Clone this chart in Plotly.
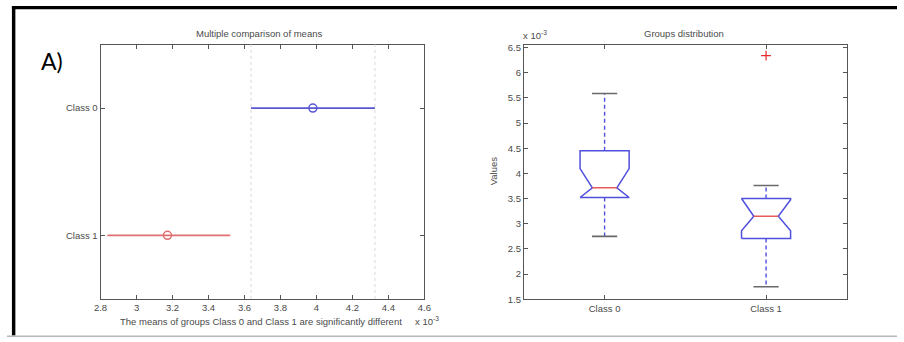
import plotly.graph_objects as go

W, H = 904, 342

# ---- Multiple comparison of means (values in units of 1e-3) ----
groups = ["Class 0", "Class 1"]
group_means = [3.98, 3.172]
ci_lower = [3.636, 2.838]
ci_upper = [4.325, 3.521]
group_colors = ["rgb(88,88,210)", "rgb(224,112,112)"]
mean_ticks = [2.8, 3.0, 3.2, 3.4, 3.6, 3.8, 4.0, 4.2, 4.4, 4.6]

# ---- Groups distribution: notched box statistics (units of 1e-3) ----
lower_whisker = [2.75, 1.75]
q1 = [3.522, 2.71]
notch_low = [3.522, 2.86]
median = [3.716, 3.149]
notch_high = [4.097, 3.48]
q3 = [4.45, 3.503]
upper_whisker = [5.59, 3.76]
outlier_group = [1]
outlier_value = [6.34]
value_ticks = [1.5, 2, 2.5, 3, 3.5, 4, 4.5, 5, 5.5, 6, 6.5]

BOX_BLUE = "rgb(80,80,222)"
MED_RED = "rgb(232,90,90)"
CAP_GRAY = "rgb(105,105,105)"
AX_COL = "#555555"
TXT_COL = "#4a4a4a"
FONT = "Liberation Sans, Arial, sans-serif"
FS = 9.5


def px_x(p):
    return p / W


def px_y(p):
    return 1 - p / H


fig = go.Figure()

# Left panel: comparison intervals with mean markers
for i, g in enumerate(groups):
    fig.add_trace(go.Scatter(
        x=[ci_lower[i], ci_upper[i]], y=[g, g], mode="lines",
        line=dict(color=group_colors[i], width=1.8),
        xaxis="x", yaxis="y", showlegend=False, hoverinfo="skip"))
    fig.add_trace(go.Scatter(
        x=[group_means[i]], y=[g], mode="markers",
        marker=dict(symbol="circle-open", size=8, color=group_colors[i],
                    line=dict(color=group_colors[i], width=1.5)),
        xaxis="x", yaxis="y", showlegend=False))

# Dotted reference lines at the bounds of the first group's interval
for xv in (ci_lower[0], ci_upper[0]):
    fig.add_shape(type="line", xref="x", yref="y domain",
                  x0=xv, x1=xv, y0=0, y1=1,
                  line=dict(color="#d8d8d8", width=1, dash="dot"))

# Right panel: notched box plots
HW = 0.152   # box half width
NW = 0.076   # notch half width at the median
CW = 0.078   # whisker cap half width
for i in range(len(groups)):
    p = i
    # whiskers
    fig.add_trace(go.Scatter(
        x=[p, p, None, p, p],
        y=[q3[i], upper_whisker[i], None, q1[i], lower_whisker[i]],
        mode="lines", line=dict(color=BOX_BLUE, width=1.4, dash="4px,3px"),
        xaxis="x2", yaxis="y2", showlegend=False, hoverinfo="skip"))
    # notched box outline
    bx = [p - HW, p - HW, p - NW, p - HW, p - HW,
          p + HW, p + HW, p + NW, p + HW, p + HW, p - HW]
    by = [q1[i], notch_low[i], median[i], notch_high[i], q3[i],
          q3[i], notch_high[i], median[i], notch_low[i], q1[i], q1[i]]
    fig.add_trace(go.Scatter(
        x=bx, y=by, mode="lines", line=dict(color=BOX_BLUE, width=1.5),
        xaxis="x2", yaxis="y2", showlegend=False, hoverinfo="skip"))
    # median
    fig.add_trace(go.Scatter(
        x=[p - NW, p + NW], y=[median[i], median[i]], mode="lines",
        line=dict(color=MED_RED, width=1.5),
        xaxis="x2", yaxis="y2", showlegend=False, hoverinfo="skip"))
    # whisker caps
    fig.add_trace(go.Scatter(
        x=[p - CW, p + CW, None, p - CW, p + CW],
        y=[upper_whisker[i], upper_whisker[i], None,
           lower_whisker[i], lower_whisker[i]],
        mode="lines", line=dict(color=CAP_GRAY, width=1.6),
        xaxis="x2", yaxis="y2", showlegend=False, hoverinfo="skip"))

# outliers
fig.add_trace(go.Scatter(
    x=outlier_group, y=outlier_value, mode="markers",
    marker=dict(symbol="cross-thin", size=7,
                line=dict(color="rgb(230,40,40)", width=1.2)),
    xaxis="x2", yaxis="y2", showlegend=False))

axis_common = dict(
    showline=True, linecolor=AX_COL, linewidth=1, mirror="ticks",
    ticks="inside", ticklen=4, tickcolor=AX_COL, tickwidth=1,
    showgrid=False, zeroline=False,
    tickfont=dict(family=FONT, size=FS, color=TXT_COL))

fig.update_layout(
    width=W, height=H,
    margin=dict(l=0, r=0, t=0, b=0),
    paper_bgcolor="white", plot_bgcolor="white",
    xaxis=dict(domain=[px_x(95), px_x(424)], anchor="y",
               range=[2.8, 4.6], tickvals=mean_ticks,
               ticktext=[f"{v:g}" for v in mean_ticks], **axis_common),
    yaxis=dict(domain=[px_y(303), px_y(42.5)], anchor="x",
               type="category", categoryorder="array",
               categoryarray=groups[::-1], range=[-0.5, 1.5],
               **axis_common),
    xaxis2=dict(domain=[px_x(525), px_x(853)], anchor="y2",
                range=[-0.5, 1.5], tickvals=list(range(len(groups))),
                ticktext=groups, **axis_common),
    yaxis2=dict(domain=[px_y(303.4), px_y(42.7)], anchor="x2",
                range=[1.5, 6.558], tickvals=value_ticks,
                ticktext=[f"{v:g}" for v in value_ticks], **axis_common),
)

txt = dict(family=FONT, size=FS, color=TXT_COL)
annotations = [
    dict(text="Multiple comparison of means", x=px_x(256), y=px_y(31)),
    dict(text="The means of groups Class 0 and Class 1 are significantly different",
         x=px_x(258), y=px_y(326)),
    dict(text="x 10<sup>-3</sup>", x=px_x(412), y=px_y(326), xanchor="left"),
    dict(text="Groups distribution", x=px_x(688), y=px_y(31)),
    dict(text="x 10<sup>-3</sup>", x=px_x(522), y=px_y(33), xanchor="left"),
    dict(text="Values", x=px_x(495), y=px_y(172), textangle=-90),
]
for a in annotations:
    a.setdefault("xanchor", "center")
    fig.add_annotation(xref="paper", yref="paper", showarrow=False,
                       yanchor="middle", font=txt, **a)

fig.add_annotation(text="A)", xref="paper", yref="paper",
                   x=px_x(33), y=px_y(59), xanchor="left", yanchor="middle",
                   showarrow=False,
                   font=dict(family="Lato, Open Sans, sans-serif", size=23,
                             color="black"))

# Frame: heavy black top and left edges, thin gray bottom edge
fig.add_shape(type="rect", xref="paper", yref="paper",
              x0=px_x(5), x1=1, y0=px_y(6.5), y1=px_y(3),
              fillcolor="black", line=dict(width=0), layer="above")
fig.add_shape(type="rect", xref="paper", yref="paper",
              x0=px_x(5), x1=px_x(8.5), y0=px_y(340.5), y1=px_y(3),
              fillcolor="black", line=dict(width=0), layer="above")
fig.add_shape(type="rect", xref="paper", yref="paper",
              x0=0, x1=1, y0=px_y(342), y1=px_y(340.5),
              fillcolor="#b8b8b8", line=dict(width=0), layer="above")

fig.write_html(
    "out.html",
    config={"displayModeBar": False},
    post_script="document.documentElement.style.margin='0';"
                "document.documentElement.style.overflow='hidden';"
                "document.body.style.margin='0';"
                "document.body.style.padding='0';"
                "document.body.style.overflow='hidden';")
